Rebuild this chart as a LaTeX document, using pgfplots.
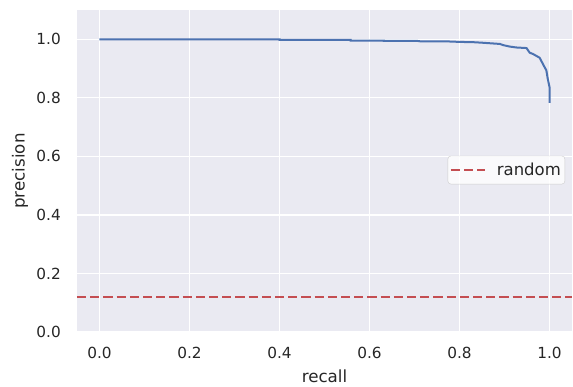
\documentclass[border=0pt]{standalone}
\usepackage{pgfplots}
\pgfplotsset{compat=1.18}
\usepackage{fontspec}
\setmainfont{DejaVu Sans}
\usetikzlibrary{calc}
\definecolor{bgcol}{HTML}{EAEAF2}
\definecolor{sblue}{HTML}{4C72B0}
\definecolor{sred}{HTML}{C44E52}
\definecolor{txt}{HTML}{262626}
\definecolor{legedge}{HTML}{CCCCCC}
\begin{document}
\begin{tikzpicture}
\begin{axis}[
  name=ax,
  scale only axis,
  width=495pt, height=322pt,
  xmin=-0.05, xmax=1.05,
  ymin=0, ymax=1.1,
  axis background/.style={fill=bgcol},
  axis line style={draw=none},
  major tick length=0pt,
  xtick={0,0.2,...,1.0},
  ytick={0,0.2,...,1.0},
  grid=major,
  grid style={white, line width=1.3pt},
  /pgf/number format/assume math mode=true,
  /pgf/number format/.cd, fixed, fixed zerofill, precision=1, /pgfplots/.cd,
  tick label style={font=\fontsize{15.3}{18}\selectfont, text=txt, inner sep=0pt},
  yticklabel style={xshift=-16pt},
  xticklabel style={yshift=-15pt},
  xlabel={recall},
  ylabel={precision},
  label style={font=\fontsize{16.7}{20}\selectfont, text=txt},
  xlabel style={at={(axis description cs:0.5,-0.137)}, anchor=center},
  ylabel style={at={(axis description cs:-0.115,0.5)}, anchor=center, rotate=0},
  legend style={at={(0.986,0.503)}, anchor=east, fill=white, fill opacity=0.8, text opacity=1,
    draw=legedge, rounded corners=3pt, font=\fontsize{16.5}{19}\selectfont, text=txt,
    inner xsep=2pt, inner ysep=5pt,
    /tikz/every odd column/.append style={column sep=9pt}},
  legend cell align=left,
  legend image code/.code={\draw[#1] (0pt,0pt) -- (34pt,0pt);},
]
\addplot[sblue, line width=2pt, forget plot] coordinates {
(0,1.0) (0.40,1.0) (0.40,0.9977) (0.558,0.9977) (0.558,0.9955) (0.632,0.9955)
(0.632,0.9944) (0.706,0.9944) (0.713,0.993) (0.768,0.993) (0.801,0.991)
(0.831,0.990) (0.853,0.988) (0.890,0.984) (0.897,0.980) (0.912,0.975)
(0.926,0.972) (0.949,0.970) (0.956,0.954) (0.963,0.950) (0.978,0.937)
(0.989,0.905) (0.993,0.894) (0.996,0.866) (1.0,0.837) (1.0,0.783)
};
\addplot[sred, line width=2pt, dash pattern=on 9.2pt off 4pt] coordinates {(-0.05,0.12) (1.05,0.12)};
\addlegendentry{random}
\end{axis}
\path ($(ax.south west)+(-77pt,-54pt)$) rectangle ($(ax.north east)+(1pt,10pt)$);
\end{tikzpicture}
\end{document}
